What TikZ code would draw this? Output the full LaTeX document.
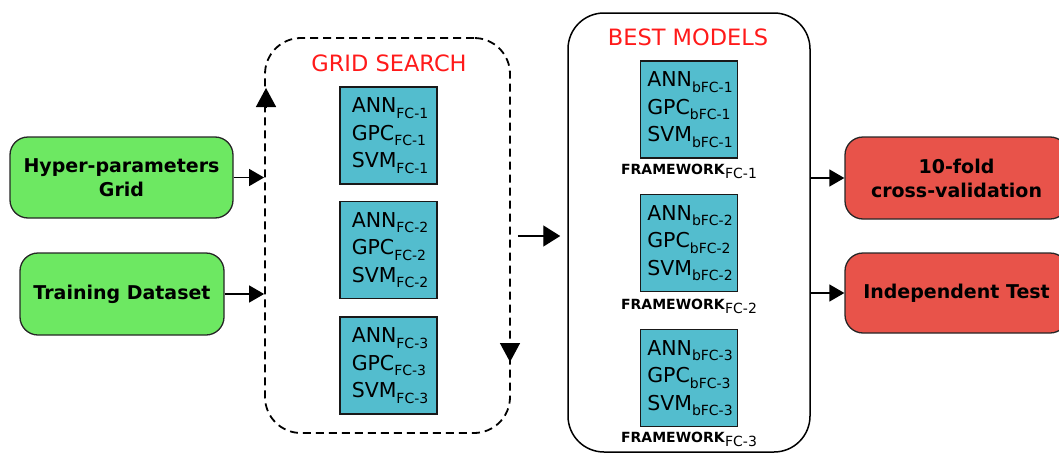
\documentclass[tikz,border=0pt]{standalone}
\usepackage{fontspec}
\setmainfont{DejaVu Sans}
\usetikzlibrary{arrows.meta}

\definecolor{inputgreen}{HTML}{6DE862}
\definecolor{outputred}{HTML}{E8534A}
\definecolor{modelcyan}{HTML}{53BDCE}
\definecolor{titlered}{HTML}{FF1A1A}

% lowered small text used as index after model names
\newcommand{\idx}[1]{\raisebox{-0.28em}{\fontsize{14}{14}\selectfont #1}}

\tikzset{
  inbox/.style={draw=black!85, line width=1.3pt, fill=inputgreen, rounded corners=18pt,
    align=center, font=\fontsize{19}{24}\selectfont\bfseries},
  outbox/.style={draw=black!85, line width=1.3pt, fill=outputred, rounded corners=18pt,
    align=center, font=\fontsize{19}{24}\selectfont\bfseries},
  modelbox/.style={draw=black!90, line width=1.8pt, fill=modelcyan, minimum width=97pt,
    minimum height=97pt, align=left, inner sep=0pt, font=\fontsize{20.5}{27.5}\selectfont},
  heading/.style={text=titlered, font=\fontsize{22.5}{22.5}\selectfont},
  fwlabel/.style={font=\fontsize{14}{14}\selectfont},
  flow/.style={line width=1.4pt, -{Triangle[length=15pt, width=17pt]}},
  bigflow/.style={line width=1.4pt, -{Triangle[length=17pt, width=21pt]}},
  marker/.style={line width=1.5pt, -{Triangle[length=19pt, width=20pt]}},
}

\begin{document}
\begin{tikzpicture}[x=1pt, y=-1pt]
\useasboundingbox (0,0) rectangle (1059,455);

% inputs
\node[inbox, minimum width=223pt, minimum height=81pt] (hyper) at (121.5,177.5)
  {Hyper-parameters\\Grid};
\node[inbox, minimum width=204pt, minimum height=82pt] (train) at (122,294)
  {Training Dataset};

% grid search stage
\node[draw, dashed, dash pattern=on 8pt off 5pt, line width=1.8pt, rounded corners=36pt,
  minimum width=245pt, minimum height=395pt] (gs) at (387.5,235.5) {};
\node[heading] (gstitle) at (389,63) {GRID SEARCH};
\node[modelbox] (g1) at (388.5,135.5)
  {\hspace{3pt}ANN\idx{FC-1}\\\hspace{3pt}GPC\idx{FC-1}\\\hspace{3pt}SVM\idx{FC-1}};
\node[modelbox] (g2) at (388.5,250)
  {\hspace{3pt}ANN\idx{FC-2}\\\hspace{3pt}GPC\idx{FC-2}\\\hspace{3pt}SVM\idx{FC-2}};
\node[modelbox] (g3) at (388.5,365.5)
  {\hspace{3pt}ANN\idx{FC-3}\\\hspace{3pt}GPC\idx{FC-3}\\\hspace{3pt}SVM\idx{FC-3}};

% direction markers on the search loop
\coordinate (upA) at (266,108);
\coordinate (upB) at (266,88);
\coordinate (dnA) at (510,343);
\coordinate (dnB) at (510,362);
\draw[marker] (upA) -- (upB);
\draw[marker] (dnA) -- (dnB);

% best models stage
\node[draw, line width=1.5pt, rounded corners=36pt, minimum width=242pt,
  minimum height=439pt] (bm) at (689,232.5) {};
\node[heading] (bmtitle) at (688,37) {BEST MODELS};
\node[modelbox] (b1) at (689,109.5)
  {\hspace{2pt}ANN\idx{bFC-1}\\\hspace{2pt}GPC\idx{bFC-1}\\\hspace{2pt}SVM\idx{bFC-1}};
\node[modelbox] (b2) at (689,243)
  {\hspace{2pt}ANN\idx{bFC-2}\\\hspace{2pt}GPC\idx{bFC-2}\\\hspace{2pt}SVM\idx{bFC-2}};
\node[modelbox] (b3) at (689,378)
  {\hspace{2pt}ANN\idx{bFC-3}\\\hspace{2pt}GPC\idx{bFC-3}\\\hspace{2pt}SVM\idx{bFC-3}};
\node[fwlabel] (f1) at (689,171) {\textbf{FRAMEWORK}\idx{FC-1}};
\node[fwlabel] (f2) at (689,306) {\textbf{FRAMEWORK}\idx{FC-2}};
\node[fwlabel] (f3) at (689,439) {\textbf{FRAMEWORK}\idx{FC-3}};

% outputs
\node[outbox, minimum width=223pt, minimum height=82pt] (cv) at (956.5,178)
  {10-fold\\cross-validation};
\node[outbox, minimum width=223pt, minimum height=80pt] (test) at (956.5,293)
  {Independent Test};

% connectors
\draw[flow] (hyper.east) -- (gs.west |- hyper.east);
\draw[flow] (train.east) -- (gs.west |- train.east);
\draw[bigflow, shorten <=7pt, shorten >=7pt] (gs.east |- 0,236) -- (bm.west |- 0,236);
\draw[flow] (bm.east |- cv.west) -- (cv.west);
\draw[flow] (bm.east |- test.west) -- (test.west);
\end{tikzpicture}
\end{document}
